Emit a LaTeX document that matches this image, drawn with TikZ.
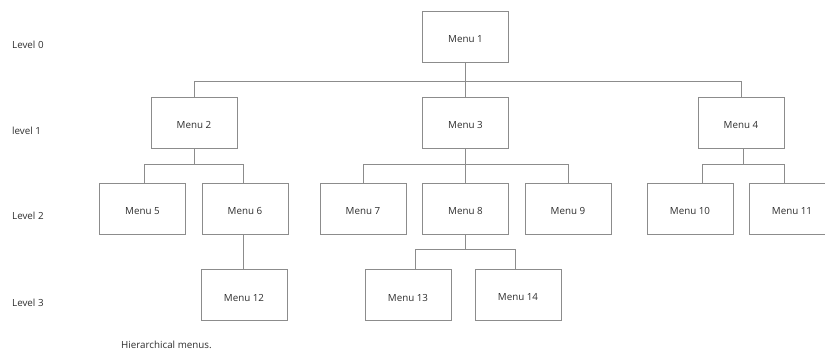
\documentclass[tikz,border=0pt]{standalone}
\usepackage{fontspec}
\setmainfont{Open Sans}
\definecolor{linegray}{HTML}{8C8C8C}
\definecolor{textgray}{HTML}{2E2E2E}
\newcommand{\mtext}[1]{\raisebox{-2.5pt}[\height][\depth]{#1}}
\begin{document}
\begin{tikzpicture}[x=1pt,y=-1pt,
  box/.style={draw=linegray, line width=0.8pt, minimum width=86pt, minimum height=51pt, inner sep=0pt, font=\fontsize{9.8}{11}\selectfont, text=textgray},
  conn/.style={draw=linegray, line width=0.8pt},
  lvl/.style={anchor=west, inner sep=0pt, font=\fontsize{9.8}{11}\selectfont, text=textgray}]
\useasboundingbox (0,0) rectangle (825,353);
% level labels
\node[lvl] (l0) at (12,45) {Level 0};
\node[lvl] (l1) at (12,131) {level 1};
\node[lvl] (l2) at (12,216) {Level 2};
\node[lvl] (l3) at (12,303) {Level 3};
\node[lvl] (cap) at (121,345) {Hierarchical menus.};
% boxes
\node[box] (m1) at (465.5,36.5) {\mtext{Menu 1}};
\node[box] (m2) at (194,122.5) {\mtext{Menu 2}};
\node[box] (m3) at (465.5,122.5) {\mtext{Menu 3}};
\node[box] (m4) at (741,122.5) {\mtext{Menu 4}};
\node[box] (m5) at (142.5,208.5) {\mtext{Menu 5}};
\node[box] (m6) at (245,208.5) {\mtext{Menu 6}};
\node[box] (m7) at (363,208.5) {\mtext{Menu 7}};
\node[box] (m8) at (465.5,208.5) {\mtext{Menu 8}};
\node[box] (m9) at (568,208.5) {\mtext{Menu 9}};
\node[box] (m10) at (690,208.5) {\mtext{Menu 10}};
\node[box] (m11) at (792,208.5) {\mtext{Menu 11}};
\node[box] (m12) at (244,295) {\mtext{Menu 12}};
\node[box] (m13) at (408,295) {\mtext{Menu 13}};
\node[box] (m14) at (518,295) {\mtext{Menu 14}};
% bus coordinates
\coordinate (b0) at (465.5,81);
\coordinate (b2) at (194,164);
\coordinate (b3) at (465.5,164);
\coordinate (b4) at (743,164);
\coordinate (b8) at (465.5,249);
% level 0 -> 1
\draw[conn] (m1.south) -- (b0);
\draw[conn] (b0) -| (m2.north);
\draw[conn] (b0) -- (m3.north);
\draw[conn] (b0) -| (m4.north);
% menu 2
\draw[conn] (m2.south) -- (b2);
\draw[conn] (b2) -| (m5.north -| 144,0);
\draw[conn] (b2) -| (m6.north -| 243,0);
% menu 3
\draw[conn] (m3.south) -- (b3);
\draw[conn] (b3) -| (m7.north);
\draw[conn] (b3) -| (m9.north);
\draw[conn] (b3) -- (m8.north);
% menu 4
\draw[conn] (m4.south -| 743,0) -- (b4);
\draw[conn] (b4) -| (m10.north -| 702,0);
\draw[conn] (b4) -| (m11.north -| 784,0);
% menu 6
\draw[conn] (m6.south -| 243,0) -- (m12.north -| 243,0);
% menu 8
\draw[conn] (m8.south) -- (b8);
\draw[conn] (b8) -| (m13.north -| 415,0);
\draw[conn] (b8) -| (m14.north -| 515,0);
\end{tikzpicture}
\end{document}
